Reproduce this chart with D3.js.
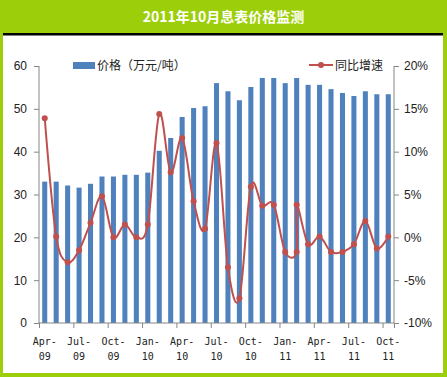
<!DOCTYPE html>
<html>
<head>
<meta charset="utf-8">
<script src="https://cdn.jsdelivr.net/npm/d3@7"></script>
<style>
  body { margin: 0; background: #fff; }
  svg { display: block; }
</style>
</head>
<body>
<svg width="447" height="377"></svg>
<script>
// Data
const months = ['Apr-09', 'May-09', 'Jun-09', 'Jul-09', 'Aug-09', 'Sep-09', 'Oct-09', 'Nov-09', 'Dec-09',
    'Jan-10', 'Feb-10', 'Mar-10', 'Apr-10', 'May-10', 'Jun-10', 'Jul-10', 'Aug-10', 'Sep-10', 'Oct-10',
    'Nov-10', 'Dec-10', 'Jan-11', 'Feb-11', 'Mar-11', 'Apr-11', 'May-11', 'Jun-11', 'Jul-11', 'Aug-11',
    'Sep-11', 'Oct-11'];
const prices = [33.0, 33.0, 32.1, 31.6, 32.5, 34.2, 34.2, 34.6, 34.6, 35.1, 40.2, 43.2, 48.1, 50.2, 50.6,
    56.0, 54.1, 52.0, 55.1, 57.2, 57.2, 56.0, 57.2, 55.6, 55.6, 54.6, 53.7, 53.0, 54.1, 53.4, 53.4];
// the growth series has two points on Feb-11
const growthMonths = ['Apr-09', 'May-09', 'Jun-09', 'Jul-09', 'Aug-09', 'Sep-09', 'Oct-09', 'Nov-09', 'Dec-09',
    'Jan-10', 'Feb-10', 'Mar-10', 'Apr-10', 'May-10', 'Jun-10', 'Jul-10', 'Aug-10', 'Sep-10', 'Oct-10',
    'Nov-10', 'Dec-10', 'Jan-11', 'Feb-11', 'Feb-11', 'Mar-11', 'Apr-11', 'May-11', 'Jun-11', 'Jul-11',
    'Aug-11', 'Sep-11', 'Oct-11'];
const growth = [13.9, 0.1, -2.9, -1.5, 1.7, 4.8, 0.0, 1.5, 0.0, 1.5, 14.4, 7.6, 11.6, 4.2, 1.0, 11.0,
    -3.5, -7.1, 5.9, 3.7, 3.8, -1.7, -1.7, 3.8, -0.8, 0.1, -1.7, -1.7, -0.8, 1.9, -1.3, 0.1];
const leftTicks = [0, 10, 20, 30, 40, 50, 60];
const rightTicks = [-10, -5, 0, 5, 10, 15, 20];
const title = '2011年10月息表价格监测';
const barName = '价格（万元/吨）';
const lineName = '同比增速';

const width = 447;
const height = 377;
const padding = { top: 66, right: 53, bottom: 54, left: 39 };
const green = '#9ccf0a';
const barColor = '#4f81bd';
const lineColor = '#c0504d';
const axisColor = '#868686';

const svg = d3.select('svg');

// Frame
svg.append('rect').attr('width', width).attr('height', height).attr('fill', green);
svg.append('rect').attr('x', 3).attr('y', 35).attr('width', 440).attr('height', 338).attr('fill', '#fff');
svg.append('rect').attr('x', 3).attr('y', 33).attr('width', 440).attr('height', 2.5).attr('fill', '#000');
svg.append('text')
    .text(title)
    .attr('x', width / 2)
    .attr('y', 22)
    .attr('fill', '#fff')
    .style('text-anchor', 'middle')
    .style('font-family', '"Noto Sans CJK SC"')
    .style('font-weight', 'bold')
    .style('font-size', '14px');

// Scales
const x0 = padding.left, x1 = width - padding.right;
const y0 = height - padding.bottom, y1 = padding.top;
const xScale = d3.scaleBand()
    .domain(months)
    .range([x0, x1])
    .paddingInner(0.56)
    .paddingOuter(0.28);
const yScale = d3.scaleLinear().domain([0, 60]).range([y0, y1]);
const y2Scale = d3.scaleLinear().domain([-10, 20]).range([y0, y1]);
const idxScale = d3.scaleLinear().domain([0, months.length]).range([x0, x1]);

// Bars
svg.selectAll('rect.bar')
    .data(months.map((m, i) => [m, prices[i]]))
    .join('rect')
    .attr('class', 'bar')
    .attr('x', d => xScale(d[0]))
    .attr('y', d => yScale(d[1]))
    .attr('width', xScale.bandwidth())
    .attr('height', d => yScale(0) - yScale(d[1]))
    .attr('fill', barColor);

// Axes
const tickFont = g => g.selectAll('text')
    .attr('fill', '#222')
    .style('font-family', '"Liberation Sans", Arial, sans-serif')
    .style('font-size', '12px');
const axisStyle = g => {
    g.selectAll('path, line').attr('stroke', axisColor);
};
svg.append('g')
    .attr('transform', `translate(${x0}, 0)`)
    .call(d3.axisLeft(yScale).tickValues(leftTicks).tickSize(5).tickPadding(7))
    .call(axisStyle).call(tickFont)
    .call(g => g.select('.domain').attr('d', `M0,${y1}V${y0}`));
svg.append('g')
    .attr('transform', `translate(${x1}, 0)`)
    .call(d3.axisRight(y2Scale).tickValues(rightTicks).tickSize(5).tickPadding(5).tickFormat(d => d + '%'))
    .call(axisStyle).call(tickFont)
    .call(g => g.select('.domain').attr('d', `M0,${y1}V${y0}`));

// x axis: tick marks on quarter boundaries, labels on every third month
svg.append('g')
    .attr('transform', `translate(0, ${y0})`)
    .call(d3.axisBottom(idxScale)
        .tickValues(d3.range(0, months.length + 1, 3).concat([months.length]))
        .tickSize(5).tickFormat(''))
    .call(axisStyle)
    .call(g => g.select('.domain').attr('d', `M${x0},0H${x1}`));
const xLabels = svg.append('g')
    .selectAll('text')
    .data(months.filter((m, i) => i % 3 === 0))
    .join('text')
    .attr('x', d => xScale(d) + xScale.bandwidth() / 2)
    .attr('y', y0 + 22)
    .attr('fill', '#222')
    .style('text-anchor', 'middle')
    .style('font-family', '"DejaVu Sans Mono", monospace')
    .style('font-size', '10px');
xLabels.append('tspan')
    .text(d => d.split('-')[0] + '-')
    .attr('x', d => xScale(d) + xScale.bandwidth() / 2);
xLabels.append('tspan')
    .text(d => d.split('-')[1])
    .attr('x', d => xScale(d) + xScale.bandwidth() / 2)
    .attr('dy', 15);

// Growth line
const px = d => xScale(d[0]) + xScale.bandwidth() / 2;
const lineData = growthMonths.map((m, i) => [m, growth[i]]);
svg.append('path')
    .datum(lineData)
    .attr('d', d3.line().x(px).y(d => y2Scale(d[1])).curve(d3.curveCardinal.tension(0)))
    .attr('fill', 'none')
    .attr('stroke', lineColor)
    .attr('stroke-width', 2);
svg.selectAll('circle.pt')
    .data(lineData)
    .join('circle')
    .attr('class', 'pt')
    .attr('cx', px)
    .attr('cy', d => y2Scale(d[1]))
    .attr('r', 3)
    .attr('fill', lineColor);

// Legend
const legendFont = s => s.attr('fill', '#222')
    .style('font-family', '"Noto Sans CJK SC"')
    .style('font-size', '12px');
svg.append('rect')
    .attr('x', 73).attr('y', 62).attr('width', 22).attr('height', 7)
    .attr('fill', barColor);
svg.append('text').text(barName)
    .attr('x', 97).attr('y', 70)
    .call(legendFont);
svg.append('line')
    .attr('x1', 309).attr('x2', 333).attr('y1', 65).attr('y2', 65)
    .attr('stroke', lineColor).attr('stroke-width', 2);
svg.append('circle')
    .attr('cx', 321).attr('cy', 65).attr('r', 3)
    .attr('fill', lineColor);
svg.append('text').text(lineName)
    .attr('x', 335).attr('y', 70)
    .call(legendFont);
</script>
</body>
</html>
